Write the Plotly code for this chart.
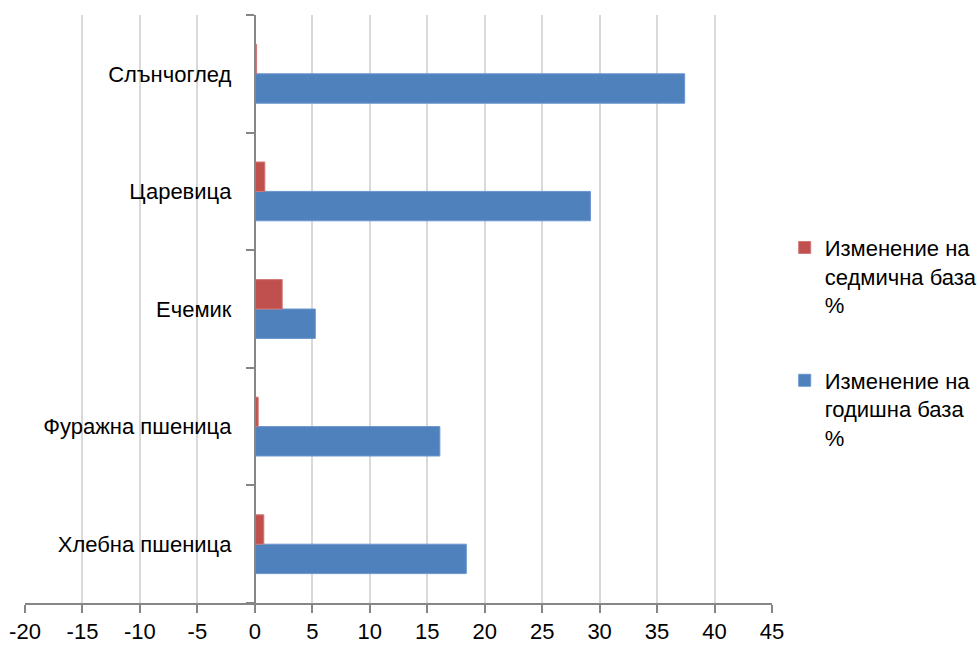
import plotly.graph_objects as go

categories = ["Хлебна пшеница", "Фуражна пшеница", "Ечемик", "Царевица", "Слънчоглед"]
weekly = [0.78, 0.29, 2.38, 0.87, 0.15]
yearly = [18.4, 16.1, 5.26, 29.2, 37.4]
series_names = ["Изменение на<br>седмична база<br>%", "Изменение на<br>годишна база<br>%"]
x_ticks = list(range(-20, 50, 5))
x_tick_labels = [str(v) for v in x_ticks]

FONT = "Liberation Sans, Arial, sans-serif"

fig = go.Figure()
fig.add_trace(go.Bar(y=categories, x=yearly, orientation="h", name=series_names[1],
                     marker=dict(color="#4f81bd", line=dict(color="#6a96cf", width=1)),
                     legendgroup="b", legendrank=2))
fig.add_trace(go.Bar(y=categories, x=weekly, orientation="h", name=series_names[0],
                     marker=dict(color="#c0504d", line=dict(color="#d17775", width=1)),
                     legendgroup="a", legendrank=1))

fig.update_layout(
    width=979, height=647,
    margin=dict(l=25, r=207, t=15, b=44, autoexpand=False),
    barmode="group", bargap=0.5, bargroupgap=0,
    plot_bgcolor="white", paper_bgcolor="white",
    font=dict(family=FONT, size=22, color="#000000"),
    showlegend=True,
    legend=dict(x=1.017, xanchor="left", y=0.64, yanchor="top",
                traceorder="grouped", tracegroupgap=44, valign="top",
                font=dict(family=FONT, size=22), itemwidth=30),
    xaxis=dict(range=[-20, 45], tickvals=x_ticks, ticktext=x_tick_labels,
               showgrid=True, gridcolor="#d9d9d9", automargin=False,
               gridwidth=1.5, zeroline=False, showline=True, linecolor="#868686",
               linewidth=1.5, ticks="outside", ticklen=8, tickcolor="#868686",
               tickwidth=1.5, tickfont=dict(family=FONT, size=22)),
    yaxis=dict(anchor="free", position=20/65, showline=True, linecolor="#868686",
               linewidth=2, ticks="outside", tickson="boundaries", ticklen=8,
               automargin=False,
               tickcolor="#868686", tickwidth=2, showgrid=False,
               tickfont=dict(family=FONT, size=22), ticklabelstandoff=18),
)

fig.write_html("out.html", config={"displayModeBar": False},
               post_script="document.body.style.margin='0';document.body.style.overflow='hidden';")
